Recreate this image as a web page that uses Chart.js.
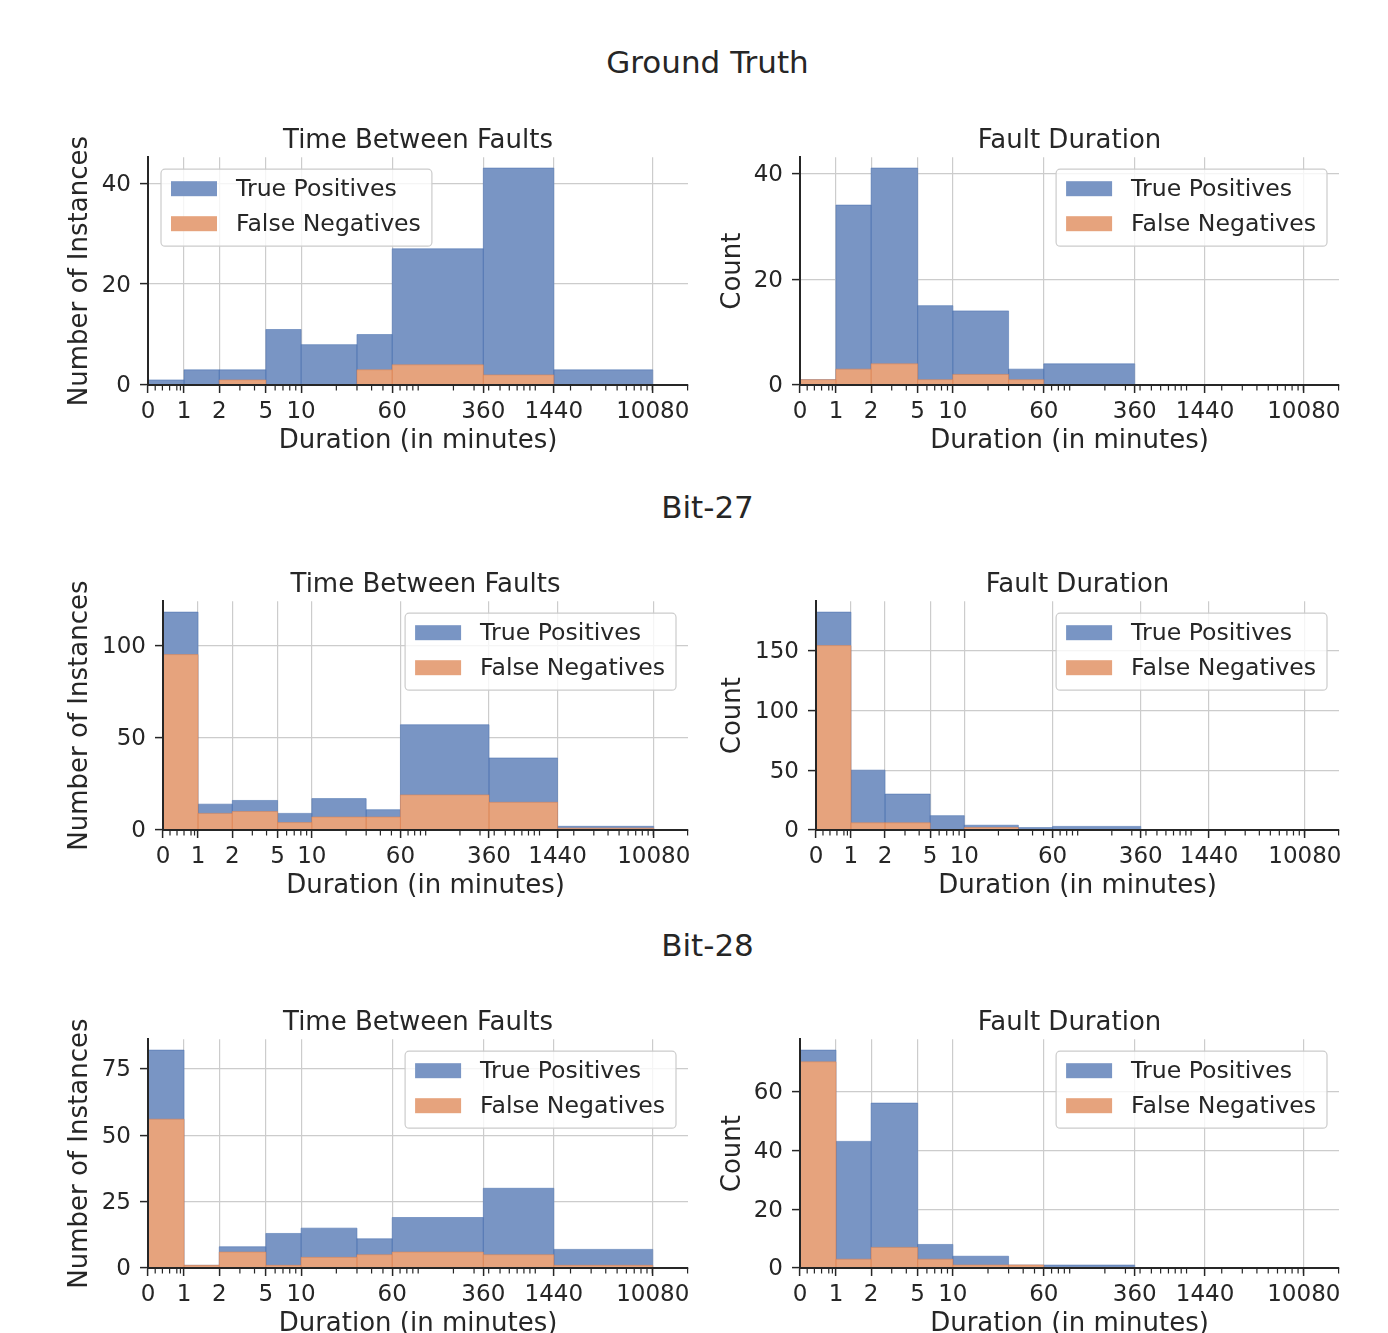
<!DOCTYPE html>
<html>
<head>
<meta charset="utf-8">
<script src="https://cdn.jsdelivr.net/npm/chart.js@4.4.1/dist/chart.umd.min.js"></script>
<style>
  html, body { margin:0; padding:0; background:#ffffff; }
  body { width:1388px; height:1333px; overflow:hidden; position:relative; font-family:'DejaVu Sans', sans-serif; }
  canvas { position:absolute; }
  .sect { position:absolute; left:0; width:1415px; text-align:center; font-size:31px; line-height:36px; color:#262626; }
</style>
</head>
<body>
<div class="sect" id="s0" style="top:44px"></div>
<div class="sect" id="s1" style="top:489px"></div>
<div class="sect" id="s2" style="top:927px"></div>
<canvas id="c0"></canvas><canvas id="c1"></canvas>
<canvas id="c2"></canvas><canvas id="c3"></canvas>
<canvas id="c4"></canvas><canvas id="c5"></canvas>
<script>
// ---------------- data ----------------
const sectionTitles = ['Ground Truth', 'Bit-27', 'Bit-28'];
const panelTitles = ['Time Between Faults', 'Fault Duration'];
const yLabels = ['Number of Instances', 'Count'];
const xLabel = 'Duration (in minutes)';
const seriesLabels = ['True Positives', 'False Negatives'];

// histogram bin edges (minutes)
const binEdges = [0, 1, 2, 5, 10, 30, 60, 360, 1440, 10080, 20160];
const xTickValues = [0, 1, 2, 5, 10, 60, 360, 1440, 10080];
const xTickLabels = ['0', '1', '2', '5', '10', '60', '360', '1440', '10080'];
const xMinorTicks = [0.2, 0.4, 0.6, 0.8, 0.9, 3, 4, 6, 7, 8, 9, 20, 30, 40, 50, 70, 80, 90, 100,
  200, 300, 400, 500, 600, 700, 800, 900, 1000, 2000, 3000, 4000, 5000, 6000, 7000, 8000, 9000, 10000, 20000];

// counts per bin
const gtTbfTP  = [1, 3, 2, 11, 8, 7, 23, 41, 3, 0];
const gtTbfFN  = [0, 0, 1, 0, 0, 3, 4, 2, 0, 0];
const gtFdTP   = [0, 31, 37, 14, 12, 2, 4, 0, 0, 0];
const gtFdFN   = [1, 3, 4, 1, 2, 1, 0, 0, 0, 0];
const b27TbfTP = [23, 5, 6, 5, 10, 4, 38, 24, 1, 0];
const b27TbfFN = [95, 9, 10, 4, 7, 7, 19, 15, 1, 0];
const b27FdTP  = [28, 44, 24, 12, 2, 2, 3, 0, 0, 0];
const b27FdFN  = [154, 6, 6, 0, 2, 0, 0, 0, 0, 0];
const b28TbfTP = [26, 0, 2, 12, 11, 6, 13, 25, 6, 0];
const b28TbfFN = [56, 1, 6, 1, 4, 5, 6, 5, 1, 0];
const b28FdTP  = [4, 40, 49, 5, 3, 0, 1, 0, 0, 0];
const b28FdFN  = [70, 3, 7, 3, 1, 1, 0, 0, 0, 0];

const gtTbfYTicks  = [0, 20, 40];
const gtFdYTicks   = [0, 20, 40];
const b27TbfYTicks = [0, 50, 100];
const b27FdYTicks  = [0, 50, 100, 150];
const b28TbfYTicks = [0, 25, 50, 75];
const b28FdYTicks  = [0, 20, 40, 60];

// ---------------- style / layout ----------------
const INK = '#262626';
const GRID = '#cccccc';
const BLUE = 'rgb(121,149,196)';
const BLUE_EDGE = 'rgba(76,114,176,0.55)';
const ORANGE = 'rgb(230,163,125)';
const ORANGE_EDGE = 'rgba(221,132,82,0.55)';
const FONT = "'DejaVu Sans', sans-serif";
const TICK_SIZE = 23, LABEL_SIZE = 26, LEGEND_SIZE = 23.6;

Chart.defaults.font.family = FONT;
Chart.defaults.color = INK;

// symmetric-log style transform: linear in [0,1], log10 above
const LIN = 0.3077;
function tx(v) { return v <= 1 ? v * LIN : LIN + Math.log10(v); }

function stepPoints(heights) {
  const pts = [];
  heights.forEach((h, i) => {
    if (h > 0) {
      const a = tx(binEdges[i]), b = tx(binEdges[i + 1]);
      pts.push({x: a, y: 0}, {x: a, y: h}, {x: b, y: h}, {x: b, y: 0});
    }
  });
  return pts;
}

const panels = [
  {tp: gtTbfTP,  fn: gtTbfFN,  yTicks: gtTbfYTicks,  kind: 0, corner: 'ul', area: {l: 148, r: 688,  t: 157,  b: 385},  cl: 65},
  {tp: gtFdTP,   fn: gtFdFN,   yTicks: gtFdYTicks,   kind: 1, corner: 'ur', area: {l: 800, r: 1339, t: 157,  b: 385},  cl: 718},
  {tp: b27TbfTP, fn: b27TbfFN, yTicks: b27TbfYTicks, kind: 0, corner: 'ur', area: {l: 163, r: 688,  t: 601,  b: 830},  cl: 65},
  {tp: b27FdTP,  fn: b27FdFN,  yTicks: b27FdYTicks,  kind: 1, corner: 'ur', area: {l: 816, r: 1339, t: 601,  b: 830},  cl: 718},
  {tp: b28TbfTP, fn: b28TbfFN, yTicks: b28TbfYTicks, kind: 0, corner: 'ur', area: {l: 148, r: 688,  t: 1039, b: 1268}, cl: 65},
  {tp: b28FdTP,  fn: b28FdFN,  yTicks: b28FdYTicks,  kind: 1, corner: 'ur', area: {l: 800, r: 1339, t: 1039, b: 1268}, cl: 718}
];

const TITLE_PAD_B = 0;
const TITLE_H = LABEL_SIZE * 1.2 + TITLE_PAD_B;
const XAXIS_H = 72, PAD_R = 8;

sectionTitles.forEach((s, i) => { document.getElementById('s' + i).textContent = s; });

const minorTickPlugin = {
  id: 'minorTicks',
  afterDraw(chart) {
    const s = chart.scales.x, ctx = chart.ctx;
    ctx.save();
    ctx.strokeStyle = INK;
    ctx.lineWidth = 1.2;
    ctx.beginPath();
    xMinorTicks.forEach(v => {
      const p = s.getPixelForValue(tx(v));
      ctx.moveTo(p, s.top);
      ctx.lineTo(p, s.top + 5.5);
    });
    ctx.stroke();
    ctx.restore();
  }
};

const boxLegendPlugin = {
  id: 'boxLegend',
  afterDraw(chart, args, opts) {
    const ctx = chart.ctx, a = chart.chartArea, ds = chart.data.datasets;
    ctx.save();
    ctx.font = LEGEND_SIZE + "px " + FONT;
    const tw = Math.max(...ds.map(d => ctx.measureText(d.label).width));
    const w = 10 + 46 + 19 + tw + 11, h = 77;
    const x0 = opts.corner === 'ul' ? a.left + 13 : a.right - 12 - w;
    const y0 = a.top + 12;
    const r = 4;
    ctx.beginPath();
    ctx.moveTo(x0 + r, y0);
    ctx.arcTo(x0 + w, y0, x0 + w, y0 + h, r);
    ctx.arcTo(x0 + w, y0 + h, x0, y0 + h, r);
    ctx.arcTo(x0, y0 + h, x0, y0, r);
    ctx.arcTo(x0, y0, x0 + w, y0, r);
    ctx.closePath();
    ctx.fillStyle = 'rgba(255,255,255,0.8)';
    ctx.fill();
    ctx.strokeStyle = GRID;
    ctx.lineWidth = 1.2;
    ctx.stroke();
    ds.forEach((d, i) => {
      const yy = y0 + 12 + i * 35;
      ctx.fillStyle = d.backgroundColor;
      ctx.fillRect(x0 + 10, yy, 46, 15);
      ctx.fillStyle = INK;
      ctx.textBaseline = 'middle';
      ctx.textAlign = 'left';
      ctx.fillText(d.label, x0 + 75, yy + 9);
    });
    ctx.restore();
  }
};

panels.forEach((p, idx) => {
  const cv = document.getElementById('c' + idx);
  const W = p.area.r + PAD_R - p.cl;
  const H = Math.round(TITLE_H + (p.area.b - p.area.t) + XAXIS_H);
  cv.width = W; cv.height = H;
  cv.style.width = W + 'px'; cv.style.height = H + 'px';
  cv.style.left = p.cl + 'px';
  cv.style.top = (p.area.t - TITLE_H) + 'px';
  const yAxisW = p.area.l - p.cl;

  const totals = p.tp.map((v, i) => v + p.fn[i]);
  const yMax = Math.max(...totals) * 1.05;

  new Chart(cv, {
    type: 'line',
    data: {
      datasets: [
        {label: seriesLabels[0], data: stepPoints(totals), backgroundColor: BLUE, borderColor: BLUE_EDGE,
         borderWidth: 1, fill: 'origin', stepped: true, pointRadius: 0, order: 1},
        {label: seriesLabels[1], data: stepPoints(p.fn), backgroundColor: ORANGE, borderColor: ORANGE_EDGE,
         borderWidth: 1, fill: 'origin', stepped: true, pointRadius: 0, order: 0}
      ]
    },
    options: {
      responsive: false,
      animation: false,
      devicePixelRatio: 1,
      events: [],
      layout: {padding: {left: 0, right: PAD_R, top: 0, bottom: 0}},
      plugins: {
        legend: {display: false},
        tooltip: {enabled: false},
        title: {display: true, fullSize: false, text: panelTitles[p.kind], color: INK,
                font: {size: LABEL_SIZE, weight: 'normal'}, padding: {top: 0, bottom: TITLE_PAD_B}},
        boxLegend: {corner: p.corner}
      },
      scales: {
        x: {
          type: 'linear', min: 0, max: tx(binEdges[binEdges.length - 1]),
          afterBuildTicks: s => { s.ticks = xTickValues.map(v => ({value: tx(v)})); },
          afterFit: s => { s.height = XAXIS_H; s.paddingLeft = 0; s.paddingRight = 0; },
          ticks: {autoSkip: false, maxRotation: 0, minRotation: 0, padding: 5, color: INK,
                  font: {size: TICK_SIZE}, callback: (v, i) => xTickLabels[i]},
          grid: {color: GRID, lineWidth: 1.2, drawTicks: true, tickLength: 8, tickColor: INK, tickWidth: 1.5},
          border: {display: true, color: INK, width: 2, z: 1},
          title: {display: true, text: xLabel, color: INK, font: {size: LABEL_SIZE}, padding: {top: 0, bottom: 0}}
        },
        y: {
          type: 'linear', min: 0, max: yMax,
          afterBuildTicks: s => { s.ticks = p.yTicks.map(v => ({value: v})); },
          afterFit: s => { s.width = yAxisW; s.paddingTop = 0; s.paddingBottom = 0; },
          ticks: {padding: 9, labelOffset: 1.5, color: INK, font: {size: TICK_SIZE}, callback: v => String(v)},
          grid: {color: GRID, lineWidth: 1.2, drawTicks: true, tickLength: 8, tickColor: INK, tickWidth: 1.5},
          border: {display: true, color: INK, width: 2, z: 1},
          title: {display: true, text: yLabels[p.kind], color: INK, font: {size: LABEL_SIZE}, padding: {top: 0, bottom: 0}}
        }
      }
    },
    plugins: [minorTickPlugin, boxLegendPlugin]
  });
});
</script>
</body>
</html>
